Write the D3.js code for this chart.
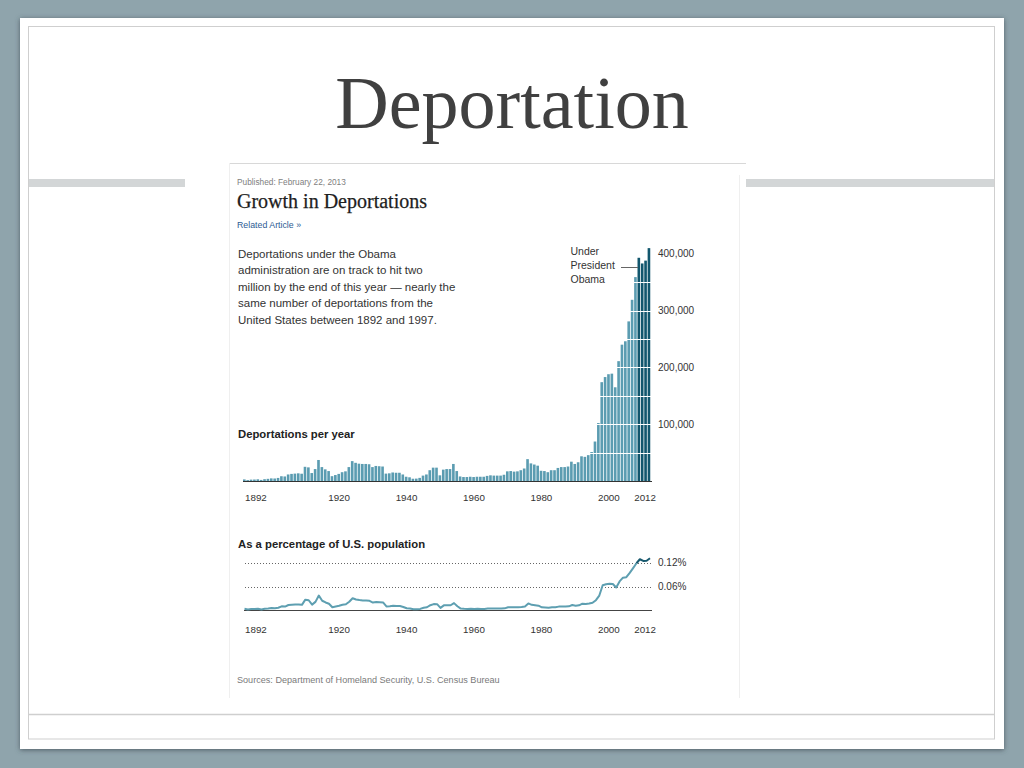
<!DOCTYPE html>
<html><head><meta charset="utf-8">
<script src="https://cdn.jsdelivr.net/npm/d3@7/dist/d3.min.js"></script>
<style>
html,body{margin:0;padding:0;background:#8fa4ac;overflow:hidden;}
svg{display:block;}
</style></head><body>
<svg id="c" width="1024" height="768"></svg>
<script>
// ---------- DATA ----------
const firstYear = 1892, lastYear = 2012;
const years = d3.range(firstYear, lastYear + 1);
// deportations per year, thousands
const deportations = [
  2.8,1.6,2.4,2.6,3.0,1.9,3.2,3.8,4.6,4.4,      // 1892-1901
  5.4,8.4,8.0,11.5,12.5,13.0,13.5,12.8,25.0,24.0, // 1902-1911
  14.0,21.0,37.0,24.5,20.5,17.5,8.5,10.5,12.5,15.5, // 1912-1921
  17.0,24.5,35.0,32.0,30.5,30.0,30.0,29.5,24.5,26.5, // 1922-1931
  26.0,25.5,13.0,13.5,15.0,14.5,14.5,11.5,7.5,6.5,   // 1932-1941
  4.0,4.2,5.5,9.5,11.5,19.0,23.5,23.5,10.0,20.0,     // 1942-1951
  21.0,21.0,30.0,17.5,8.0,7.0,7.0,7.5,7.0,7.5,       // 1952-1961
  7.5,7.5,9.0,10.0,9.5,9.5,9.5,11.0,17.0,17.5,       // 1962-1971
  16.5,17.0,19.0,22.0,38.5,31.0,29.0,27.0,18.0,17.5, // 1972-1981
  15.5,19.0,19.0,23.0,24.5,24.5,25.5,34.0,30.0,33.0, // 1982-1991
  43.5,42.5,45.5,51.0,69.5,102,174,183,188,189,      // 1992-2001
  165,211,240,246,281,319,359,393,383,388,           // 2002-2011
  410                                                // 2012
];
// deportations as % of U.S. population
const populationPct = [
  0.0043,0.0024,0.0035,0.0037,0.0042,0.0026,0.0044,0.0051,0.0060,0.0057,
  0.0068,0.0104,0.0097,0.0137,0.0146,0.0149,0.0152,0.0141,0.0271,0.0256,
  0.0147,0.0216,0.0373,0.0244,0.0201,0.0169,0.0082,0.0100,0.0117,0.0143,
  0.0155,0.0219,0.0307,0.0276,0.0260,0.0252,0.0249,0.0242,0.0199,0.0214,
  0.0208,0.0203,0.0103,0.0106,0.0117,0.0113,0.0112,0.0088,0.0057,0.0049,
  0.0030,0.0031,0.0040,0.0068,0.0081,0.0132,0.0160,0.0158,0.0066,0.0129,
  0.0133,0.0131,0.0184,0.0105,0.0047,0.0041,0.0040,0.0042,0.0039,0.0041,
  0.0040,0.0040,0.0047,0.0051,0.0048,0.0048,0.0047,0.0054,0.0083,0.0084,
  0.0079,0.0080,0.0089,0.0102,0.0177,0.0141,0.0130,0.0120,0.0079,0.0076,
  0.0067,0.0081,0.0081,0.0097,0.0102,0.0101,0.0104,0.0138,0.0120,0.0130,
  0.0170,0.0164,0.0173,0.0192,0.0258,0.0374,0.0631,0.0656,0.0666,0.0663,
  0.0574,0.0727,0.0820,0.0832,0.0942,0.1059,0.1181,0.1281,0.1238,0.1245,
  0.1306
];
const obamaStart = 2009;
const xTickYears = [1892,1920,1940,1960,1980,2000,2012];
const yTickValues = [100,200,300,400];
const yTickLabels = ["100,000","200,000","300,000","400,000"];
const gridValues = [50,100,150,200,250,300,350];
const pctTickValues = [0.06,0.12];
const pctTickLabels = ["0.06%","0.12%"];
const introLines = [
  "Deportations under the Obama",
  "administration are on track to hit two",
  "million by the end of this year \u2014 nearly the",
  "same number of deportations from the",
  "United States between 1892 and 1997."
];
const obamaLabel = ["Under","President","Obama"];

// ---------- DRAW ----------
const SANS = "'Liberation Sans', Arial, Helvetica, sans-serif";
const SERIF = "'Liberation Serif', 'Times New Roman', serif";
const svg = d3.select("#c");

const defs = svg.append("defs");
const f = defs.append("filter").attr("id","sh").attr("x","-5%").attr("y","-5%").attr("width","110%").attr("height","110%");
f.append("feDropShadow").attr("dx",0).attr("dy",1).attr("stdDeviation",2.5).attr("flood-color","#3c4c52").attr("flood-opacity",0.8);

svg.append("rect").attr("width",1024).attr("height",768).attr("fill","#8fa4ac");
svg.append("rect").attr("x",20).attr("y",18).attr("width",984).attr("height",731).attr("fill","#fff").attr("filter","url(#sh)");
// inner frame
svg.append("rect").attr("x",28.5).attr("y",26.5).attr("width",966).attr("height",712.5)
  .attr("fill","none").attr("stroke","#cfcfcf").attr("stroke-width",1);
svg.append("line").attr("x1",28.5).attr("x2",994.5).attr("y1",714.5).attr("y2",714.5)
  .attr("stroke","#cfcfcf").attr("stroke-width",1.5);
// gray bars
svg.append("rect").attr("x",29).attr("y",179).attr("width",156).attr("height",8).attr("fill","#d3d6d7");
svg.append("rect").attr("x",746).attr("y",179).attr("width",248).attr("height",8).attr("fill","#d3d6d7");

// slide title
svg.append("text").attr("x",512).attr("y",128).attr("text-anchor","middle")
  .attr("font-family",SERIF).attr("font-size",74).attr("fill","#404040").text("Deportation");

// screenshot frame
svg.append("line").attr("x1",229).attr("x2",746).attr("y1",163.5).attr("y2",163.5).attr("stroke","#d8d8d8");
svg.append("line").attr("x1",229.5).attr("x2",229.5).attr("y1",163).attr("y2",698).attr("stroke","#efefef");
svg.append("line").attr("x1",739.5).attr("x2",739.5).attr("y1",175).attr("y2",698).attr("stroke","#efefef");

// header texts
svg.append("text").attr("x",237).attr("y",184.5).attr("font-family",SANS).attr("font-size",8.3)
  .attr("fill","#808080").text("Published: February 22, 2013");
svg.append("text").attr("x",237).attr("y",207.5).attr("font-family",SERIF).attr("font-size",20)
  .attr("fill","#1e1e1e").attr("stroke","#1e1e1e").attr("stroke-width",0.25).text("Growth in Deportations");
svg.append("text").attr("x",237).attr("y",227.5).attr("font-family",SANS).attr("font-size",8.8)
  .attr("fill","#2d5c93").text("Related Article \u00bb");
svg.append("g").selectAll("text").data(introLines).join("text")
  .attr("x",238).attr("y",(d,i)=>257.7+i*16.5).attr("font-family",SANS).attr("font-size",11.5)
  .attr("fill","#333").text(d=>d);

// ---------- BAR CHART ----------
const x = d3.scaleBand().domain(years).range([243,651]).padding(0);
const y = d3.scaleLinear().domain([0,400]).range([481,253.8]);
const barColor = "#5b9cb1", obamaColor = "#12566d";

svg.append("text").attr("x",238).attr("y",438).attr("font-family",SANS).attr("font-size",11.3)
  .attr("font-weight","bold").attr("fill","#222").text("Deportations per year");

svg.append("g").selectAll("rect").data(years).join("rect")
  .attr("x",d=>x(d)).attr("width",x.bandwidth()-0.75)
  .attr("y",(d,i)=>y(deportations[i])).attr("height",(d,i)=>y(0)-y(deportations[i]))
  .attr("fill",d=>d>=obamaStart?obamaColor:barColor);

// white gridlines over bars
svg.append("g").selectAll("line").data(gridValues).join("line")
  .attr("x1",243).attr("x2",651).attr("y1",d=>Math.round(y(d))+0.5).attr("y2",d=>Math.round(y(d))+0.5)
  .attr("stroke","#fff").attr("stroke-width",1);

svg.append("line").attr("x1",243).attr("x2",652).attr("y1",481.5).attr("y2",481.5).attr("stroke","#333").attr("stroke-width",1);

svg.append("g").selectAll("text").data(yTickValues).join("text")
  .attr("x",658).attr("y",d=>y(d)).attr("dy","0.35em").attr("font-family",SANS).attr("font-size",10)
  .attr("fill","#333").text((d,i)=>yTickLabels[i]);

function xLabels(g, baseY){
  g.selectAll("text").data(xTickYears).join("text")
    .attr("x",d=> d===firstYear ? x(d)+2 : d===lastYear ? x(d)+x.bandwidth()+5 : x(d)+x.bandwidth()/2)
    .attr("y",baseY).attr("text-anchor",d=> d===firstYear?"start": d===lastYear?"end":"middle")
    .attr("font-family",SANS).attr("font-size",9.8).attr("fill","#333").text(d=>d);
}
xLabels(svg.append("g"), 501);

// Obama annotation
svg.append("g").selectAll("text").data(obamaLabel).join("text")
  .attr("x",570.5).attr("y",(d,i)=>255+i*14.2).attr("font-family",SANS).attr("font-size",10.5)
  .attr("fill","#333").text(d=>d);
svg.append("line").attr("x1",621).attr("x2",638).attr("y1",267.5).attr("y2",267.5).attr("stroke","#666").attr("stroke-width",1);

// ---------- LINE CHART ----------
const lx = d3.scaleLinear().domain([firstYear,lastYear]).range([244.5,650]);
const ly = d3.scaleLinear().domain([0,0.12]).range([610.5,562.5]);

svg.append("text").attr("x",238).attr("y",548).attr("font-family",SANS).attr("font-size",11.3)
  .attr("font-weight","bold").attr("fill","#222").text("As a percentage of U.S. population");

svg.append("g").selectAll("line").data(pctTickValues).join("line")
  .attr("x1",245).attr("x2",652).attr("y1",d=>Math.round(ly(d))+0.5).attr("y2",d=>Math.round(ly(d))+0.5)
  .attr("stroke","#666").attr("stroke-width",1).attr("stroke-dasharray","1,2");
svg.append("g").selectAll("text").data(pctTickValues).join("text")
  .attr("x",658).attr("y",d=>ly(d)).attr("dy","0.35em").attr("font-family",SANS).attr("font-size",10)
  .attr("fill","#333").text((d,i)=>pctTickLabels[i]);

svg.append("line").attr("x1",244).attr("x2",652).attr("y1",610.5).attr("y2",610.5).attr("stroke","#444").attr("stroke-width",1);

const pts = years.map((yr,i)=>({yr, v: populationPct[i]}));
const line = d3.line().x(d=>lx(d.yr)).y(d=>ly(d.v));
svg.append("path").datum(pts.filter(d=>d.yr<=2008))
  .attr("d",line).attr("fill","none").attr("stroke","#5e9fb1").attr("stroke-width",2).attr("stroke-linejoin","round");
svg.append("path").datum(pts.filter(d=>d.yr>=2008))
  .attr("d",line).attr("fill","none").attr("stroke","#18596e").attr("stroke-width",2).attr("stroke-linejoin","round");

xLabels(svg.append("g"), 633);

// source
svg.append("text").attr("x",237).attr("y",682.5).attr("font-family",SANS).attr("font-size",9.1)
  .attr("fill","#7a7a7a").text("Sources: Department of Homeland Security, U.S. Census Bureau");
</script>
</body></html>
